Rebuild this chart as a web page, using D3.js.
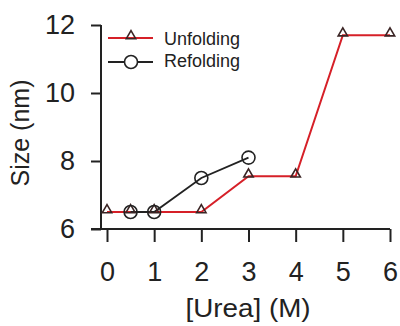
<!DOCTYPE html>
<html><head><meta charset="utf-8">
<script src="https://cdn.jsdelivr.net/npm/d3@7"></script>
<style>body{margin:0;background:#fff}svg{display:block}text{font-family:"Liberation Sans",Arial,sans-serif;fill:#222}</style>
</head><body>
<script>
const unfoldX = [0,0.5,1,2,3,4,5,6];
const unfoldY = [6.5,6.5,6.5,6.5,7.55,7.55,11.7,11.7];
const refoldX = [0.5,1,2,3];
const refoldY = [6.5,6.5,7.5,8.1];
const xTicks = [0,1,2,3,4,5,6];
const yTicks = [6,8,10,12];
const seriesNames = ["Unfolding","Refolding"];

const W=400,H=326;
const svg=d3.select("body").append("svg").attr("width",W).attr("height",H);
const x=d3.scaleLinear().domain([0,6]).range([107,390]);
const y=d3.scaleLinear().domain([6,12]).range([229,25]);

// y axis
const ya=svg.append("g").attr("transform","translate(101,0)")
  .call(d3.axisLeft(y).tickValues(yTicks).tickFormat(d3.format("d")).tickSize(10).tickPadding(16));
ya.select(".domain").attr("d",`M0,${y(12)}V${y(6)}`).attr("stroke","#222").attr("stroke-width",2);
ya.selectAll(".tick line").attr("stroke","#222").attr("stroke-width",2);
ya.selectAll(".tick text").style("font-size","27px").attr("fill","#222");

// x axis
const xa=svg.append("g").attr("transform",`translate(0,${y(6)})`)
  .call(d3.axisBottom(x).tickValues(xTicks).tickFormat(d3.format("d")).tickSize(13).tickPadding(20));
xa.select(".domain").attr("d",`M91,0H${x(6)}`).attr("stroke","#222").attr("stroke-width",2);
xa.selectAll(".tick line").attr("stroke","#222").attr("stroke-width",2);
xa.selectAll(".tick text").style("font-size","27px").attr("fill","#222");

svg.append("text").attr("transform","translate(248,317) scale(1.07,1)").attr("text-anchor","middle").style("font-size","26px").text("[Urea] (M)");
svg.append("text").attr("transform","translate(29,133) rotate(-90)").attr("text-anchor","middle").style("font-size","25px").text("Size (nm)");

const line=d3.line().x(d=>x(d[0])).y(d=>y(d[1]));
const uData=unfoldX.map((v,i)=>[v,unfoldY[i]]);
const rData=refoldX.map((v,i)=>[v,refoldY[i]]);
svg.append("path").datum(uData).attr("d",line).attr("fill","none").attr("stroke","#d62028").attr("stroke-width",2);
svg.append("path").datum(rData).attr("d",line).attr("fill","none").attr("stroke","#222").attr("stroke-width",1.8);

const tri=d3.symbol().type(d3.symbolTriangle).size(38);
svg.selectAll(".tri").data(uData).enter().append("path")
  .attr("d",tri).attr("transform",d=>`translate(${x(d[0])},${y(d[1])-2})`)
  .attr("fill","none").attr("stroke","#3a2424").attr("stroke-width",1.6);
svg.selectAll(".circ").data(rData).enter().append("circle")
  .attr("cx",d=>x(d[0])).attr("cy",d=>y(d[1])).attr("r",6.5)
  .attr("fill","none").attr("stroke","#222").attr("stroke-width",1.6);

// legend
const lg=svg.append("g");
lg.append("line").attr("x1",108).attr("x2",153).attr("y1",38).attr("y2",38).attr("stroke","#d62028").attr("stroke-width",2);
lg.append("path").attr("d",tri).attr("transform","translate(131,36)").attr("fill","none").attr("stroke","#3a2424").attr("stroke-width",1.6);
lg.append("text").attr("x",164).attr("y",45).style("font-size","18px").text(seriesNames[0]);
lg.append("line").attr("x1",108).attr("x2",153).attr("y1",62).attr("y2",62).attr("stroke","#222").attr("stroke-width",1.8);
lg.append("circle").attr("cx",131).attr("cy",62).attr("r",6.5).attr("fill","#fff").attr("stroke","#222").attr("stroke-width",1.6);
lg.append("text").attr("x",164).attr("y",67).style("font-size","18px").text(seriesNames[1]);
</script>
</body></html>
